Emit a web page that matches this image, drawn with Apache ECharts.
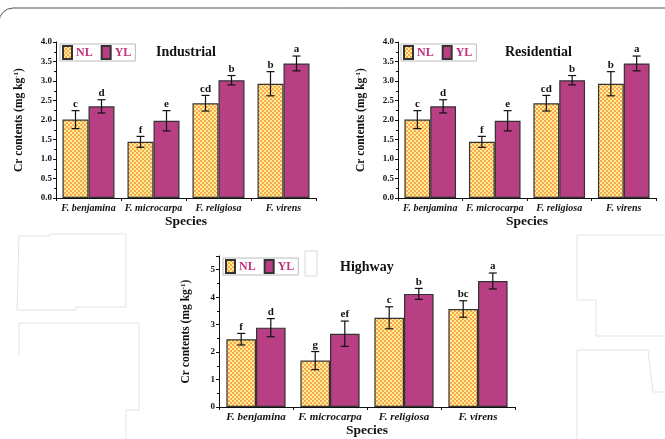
<!DOCTYPE html>
<html><head><meta charset="utf-8">
<script src="https://cdn.jsdelivr.net/npm/echarts@6/dist/echarts.min.js"></script>
<style>html,body{margin:0;padding:0;background:#fff}#c{width:665px;height:439px}</style>
</head><body><div id="c"></div>
<script>
var categories = ['F. benjamina', 'F. microcarpa', 'F. religiosa', 'F. virens'];
// Industrial
var indNL = [2.01, 1.44, 2.43, 2.93];
var indNLerr = [0.23, 0.14, 0.20, 0.31];
var indYL = [2.35, 1.98, 3.02, 3.45];
var indYLerr = [0.17, 0.26, 0.12, 0.19];
var indNLlet = ['c', 'f', 'cd', 'b'];
var indYLlet = ['d', 'e', 'b', 'a'];
// Residential
var resNL = [2.01, 1.44, 2.43, 2.93];
var resNLerr = [0.23, 0.14, 0.20, 0.31];
var resYL = [2.35, 1.98, 3.02, 3.45];
var resYLerr = [0.17, 0.26, 0.12, 0.19];
var resNLlet = ['c', 'f', 'cd', 'b'];
var resYLlet = ['d', 'e', 'b', 'a'];
// Highway
var hwNL = [2.47, 1.69, 3.25, 3.57];
var hwNLerr = [0.21, 0.33, 0.40, 0.30];
var hwYL = [2.89, 2.67, 4.12, 4.59];
var hwYLerr = [0.33, 0.46, 0.20, 0.29];
var hwNLlet = ['f', 'g', 'c', 'bc'];
var hwYLlet = ['d', 'ef', 'b', 'a'];
var indTicks = [0, 4, 0.5];
var hwTicks = [0, 5.5, 1];

var SERIF = "'Liberation Serif','Times New Roman',serif";
var c = document.createElement('canvas');
c.width = 4; c.height = 4;
var g = c.getContext('2d');
g.fillStyle = '#FFEC98'; g.fillRect(0, 0, 4, 4);
g.fillStyle = '#F7A94E'; g.fillRect(0, 0, 2, 2); g.fillRect(2, 2, 2, 2);
var nlColor = {image: c, repeat: 'repeat'};
var ylColor = '#B83F84';

var chart = echarts.init(document.getElementById('c'), null, {renderer: 'canvas'});

var panels = [
  {NL: indNL, NLe: indNLerr, YL: indYL, YLe: indYLerr, NLl: indNLlet, YLl: indYLlet, grid: {left: 56, top: 42, width: 260, height: 156}, ticks: indTicks, fmt: 1, title: 'Industrial', tx: 156, ty: 45, lx: 60, ly: 44, xfs: 10, nameGap: 30},
  {NL: resNL, NLe: resNLerr, YL: resYL, YLe: resYLerr, NLl: resNLlet, YLl: resYLlet, grid: {left: 398, top: 42, width: 258, height: 156}, ticks: indTicks, fmt: 1, title: 'Residential', tx: 505, ty: 45, lx: 401, ly: 44, xfs: 10, nameGap: 30},
  {NL: hwNL, NLe: hwNLerr, YL: hwYL, YLe: hwYLerr, NLl: hwNLlet, YLl: hwYLlet, grid: {left: 219, top: 256, width: 296, height: 156}, ticks: hwTicks, fmt: 0, title: 'Highway', tx: 340, ty: 260, lx: 223, ly: 258, xfs: 11, nameGap: 26}
];

var grids = [], xAxes = [], yAxes = [], series = [], legends = [], graphics = [];

function errSeries(i, vals, errs, lets, side) {
  var data = vals.map(function (v, k) { return [k, v, errs[k], lets[k]]; });
  return {
    type: 'custom', xAxisIndex: i, yAxisIndex: i, z: 5, silent: true,
    encode: {x: 0, y: 1},
    data: data,
    renderItem: function (params, api) {
      var k = api.value(0), v = api.value(1), e = api.value(2);
      var band = api.size([1, 0])[0];
      var p = api.coord([k, v]);
      var x = p[0] + side * band * 0.2;
      var top = api.coord([k, v + e])[1];
      var bot = api.coord([k, v - e])[1];
      var cap = 4;
      var st = {stroke: '#111', lineWidth: 1.2};
      return {type: 'group', children: [
        {type: 'line', shape: {x1: x, y1: top, x2: x, y2: bot}, style: st},
        {type: 'line', shape: {x1: x - cap, y1: top, x2: x + cap, y2: top}, style: st},
        {type: 'line', shape: {x1: x - cap, y1: bot, x2: x + cap, y2: bot}, style: st},
        {type: 'text', x: x, y: top - 1, style: {text: lets[k], fontFamily: SERIF, fontWeight: 'bold', fontSize: 11, fill: '#111', align: 'center', verticalAlign: 'bottom'}}
      ]};
    }
  };
}

panels.forEach(function (p, i) {
  grids.push(Object.assign({containLabel: false}, p.grid));
  xAxes.push({
    type: 'category', gridIndex: i, data: categories,
    axisLine: {lineStyle: {color: '#111', width: 1}},
    axisTick: {show: true, length: 3, lineStyle: {color: '#111'}},
    axisLabel: {fontFamily: SERIF, fontStyle: 'italic', fontWeight: 'bold', fontSize: p.xfs, color: '#111', margin: 5, interval: 0},
    name: 'Species', nameLocation: 'middle', nameGap: 17,
    nameTextStyle: {fontFamily: SERIF, fontWeight: 'bold', fontSize: 13.5, color: '#111'}
  });
  yAxes.push({
    type: 'value', gridIndex: i, min: p.ticks[0], max: p.ticks[1], interval: p.ticks[2],
    axisLine: {show: true, lineStyle: {color: '#111', width: 1}},
    axisTick: {show: true, length: 3, lineStyle: {color: '#111'}},
    minorTick: {show: true, splitNumber: 2, length: 2, lineStyle: {color: '#111'}},
    splitLine: {show: false},
    axisLabel: {fontFamily: SERIF, fontWeight: 'bold', fontSize: 9, color: '#111', margin: 4, showMaxLabel: p.fmt === 1,
      formatter: function (v) { return p.fmt ? v.toFixed(1) : String(v); }},
    name: '{a|Cr contents (mg kg}{s|-1}{a|)}', nameLocation: 'middle', nameGap: p.nameGap,
    nameTextStyle: {rich: {
      a: {fontFamily: SERIF, fontWeight: 'bold', fontSize: 11.5, color: '#111'},
      s: {fontFamily: SERIF, fontWeight: 'bold', fontSize: 7, color: '#111', verticalAlign: 'top', padding: [0, 0, 6, 0]}
    }}
  });
  series.push({type: 'bar', name: 'NL', xAxisIndex: i, yAxisIndex: i, data: p.NL, barGap: '0%', barCategoryGap: '20%',
    itemStyle: {color: nlColor, borderColor: '#333', borderWidth: 1.2}});
  series.push({type: 'bar', name: 'YL', xAxisIndex: i, yAxisIndex: i, data: p.YL, barGap: '0%', barCategoryGap: '20%',
    itemStyle: {color: ylColor, borderColor: '#333', borderWidth: 1.2}});
  series.push(errSeries(i, p.NL, p.NLe, p.NLl, -1));
  series.push(errSeries(i, p.YL, p.YLe, p.YLl, 1));
  legends.push({
    left: p.lx, top: p.ly, orient: 'horizontal', data: ['NL', 'YL'], icon: 'rect',
    itemWidth: 9, itemHeight: 13, itemGap: 8, padding: [1, 4, 1, 2],
    borderColor: '#bbb', borderWidth: 1, selectedMode: false,
    textStyle: {fontFamily: SERIF, fontWeight: 'bold', fontSize: 12, color: '#C2317F', padding: [0, 0, 0, -1]}
  });
  graphics.push({type: 'text', left: p.tx, top: p.ty, style: {text: p.title, fontFamily: SERIF, fontWeight: 'bold', fontSize: 14, fill: '#111'}});
});

// page frame and faint box outlines from the source image
graphics.push({type: 'rect', shape: {x: -1, y: 8, width: 700, height: 500, r: 14}, style: {fill: 'none', stroke: '#555', lineWidth: 1}, z: -1});
var faint = {fill: 'none', stroke: '#e3e3e3', lineWidth: 1};
graphics.push({type: 'polyline', shape: {points: [[19, 236], [50, 236], [50, 234], [126, 234], [126, 307], [76, 307], [76, 310], [17, 310], [19, 236]]}, style: faint, z: -1});
graphics.push({type: 'polyline', shape: {points: [[19, 356], [19, 323], [139, 323], [139, 410], [126, 410], [126, 439]]}, style: faint, z: -1});
graphics.push({type: 'polyline', shape: {points: [[665, 235], [577, 235], [577, 300], [596, 300], [596, 336], [665, 336]]}, style: faint, z: -1});
graphics.push({type: 'polyline', shape: {points: [[577, 439], [577, 350], [648, 350], [653, 392], [665, 392]]}, style: faint, z: -1});
graphics.push({type: 'rect', shape: {x: 305, y: 251, width: 12, height: 25}, style: {fill: 'none', stroke: '#d8d8d8', lineWidth: 1}, z: -1});

chart.setOption({
  animation: false,
  backgroundColor: '#fff',
  grid: grids, xAxis: xAxes, yAxis: yAxes, series: series, legend: legends,
  graphic: graphics
});
</script></body></html>
